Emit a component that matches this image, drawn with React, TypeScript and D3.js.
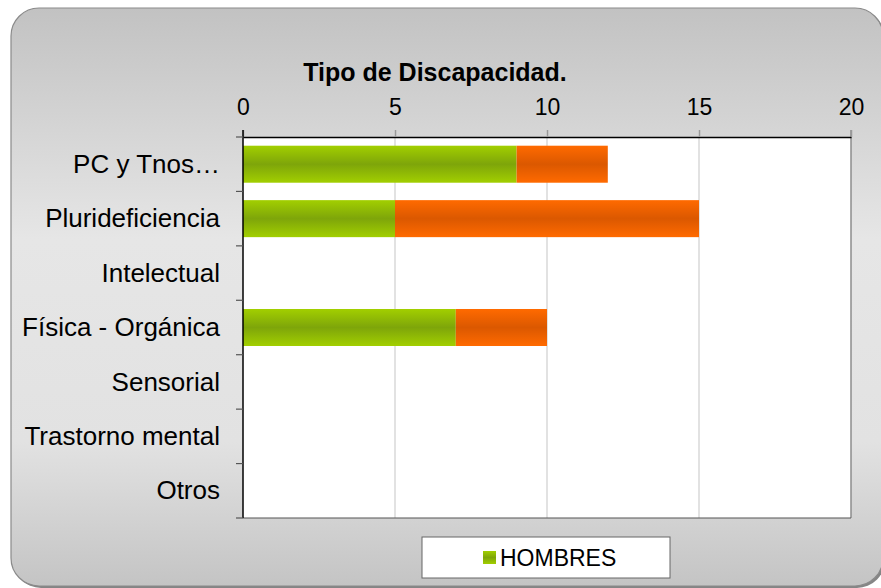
import React, { useEffect, useRef } from 'react';
import * as d3 from 'd3';

const categories = ['PC y Tnos…', 'Plurideficiencia', 'Intelectual', 'Física - Orgánica', 'Sensorial', 'Trastorno mental', 'Otros'];
const hombres = [9, 5, 0, 7, 0, 0, 0];
const mujeres = [3, 10, 0, 3, 0, 0, 0];
const xTicks = [0, 5, 10, 15, 20];

const App = () => {
  const svgRef = useRef<SVGSVGElement>(null);

  useEffect(() => {
    const width = 881;
    const height = 588;
    const left = 243, right = 851, top = 137, bottom = 518;
    const font = "'Liberation Sans', Arial, sans-serif";

    const svg = d3.select(svgRef.current)
      .attr('width', width)
      .attr('height', height);
    svg.selectAll('*').remove();

    const defs = svg.append('defs');
    const bg = defs.append('linearGradient').attr('id', 'bg')
      .attr('x1', 0).attr('y1', 0).attr('x2', 0).attr('y2', 1);
    bg.append('stop').attr('offset', '0%').attr('stop-color', '#c2c2c2');
    bg.append('stop').attr('offset', '40%').attr('stop-color', '#e6e6e6');
    bg.append('stop').attr('offset', '75%').attr('stop-color', '#e2e2e2');
    bg.append('stop').attr('offset', '100%').attr('stop-color', '#c4c4c4');

    // bar gradients (light edges, darker middle)
    const barGrad = (id: string, edge: string, mid: string) => {
      const g = defs.append('linearGradient').attr('id', id)
        .attr('x1', 0).attr('y1', 0).attr('x2', 0).attr('y2', 1);
      g.append('stop').attr('offset', '0%').attr('stop-color', edge);
      g.append('stop').attr('offset', '50%').attr('stop-color', mid);
      g.append('stop').attr('offset', '100%').attr('stop-color', edge);
    };
    barGrad('green', '#a2cf00', '#7ea50a');
    barGrad('orange', '#ff6a00', '#db5800');

    // frame
    svg.append('rect')
      .attr('x', 13).attr('y', 10).attr('width', 872).attr('height', 578)
      .attr('rx', 28).attr('fill', '#333').attr('opacity', 0.6);
    svg.append('rect')
      .attr('x', 11).attr('y', 8).attr('width', 872).attr('height', 578)
      .attr('rx', 28).attr('fill', 'url(#bg)').attr('stroke', '#8a8a8a').attr('stroke-width', 1.2);

    // title
    svg.append('text')
      .attr('x', 435).attr('y', 81)
      .attr('text-anchor', 'middle')
      .attr('font-family', font).attr('font-weight', 'bold').attr('font-size', 25)
      .text('Tipo de Discapacidad.');

    const x = d3.scaleLinear().domain([0, 20]).range([left, right]);
    const y = d3.scaleBand().domain(categories).range([top, bottom]).paddingInner(0.32).paddingOuter(0.16);
    const band = (bottom - top) / categories.length;

    // plot area
    svg.append('rect')
      .attr('x', left).attr('y', top).attr('width', right - left).attr('height', bottom - top)
      .attr('fill', '#fff');

    // gridlines
    svg.append('g').selectAll('line')
      .data(xTicks.slice(1, -1))
      .enter().append('line')
      .attr('x1', d => x(d)).attr('x2', d => x(d))
      .attr('y1', top - 7).attr('y2', bottom)
      .attr('stroke', '#d9d9d9').attr('stroke-width', 1.5);

    // bars
    const rows = categories.map((c, i) => ({ c, h: hombres[i], m: mujeres[i] }));
    const bars = svg.append('g');
    bars.selectAll('rect.h')
      .data(rows.filter(d => d.h > 0))
      .enter().append('rect')
      .attr('x', x(0))
      .attr('y', d => y(d.c)!)
      .attr('width', d => x(d.h) - x(0))
      .attr('height', y.bandwidth())
      .attr('fill', 'url(#green)');
    bars.selectAll('rect.m')
      .data(rows.filter(d => d.m > 0))
      .enter().append('rect')
      .attr('x', d => x(d.h))
      .attr('y', d => y(d.c)!)
      .attr('width', d => x(d.h + d.m) - x(d.h))
      .attr('height', y.bandwidth())
      .attr('fill', 'url(#orange)');

    // borders
    svg.append('line').attr('x1', right).attr('x2', right).attr('y1', top - 7).attr('y2', bottom)
      .attr('stroke', '#8c8c8c').attr('stroke-width', 1.5);
    svg.append('line').attr('x1', left).attr('x2', right).attr('y1', bottom).attr('y2', bottom)
      .attr('stroke', '#555').attr('stroke-width', 1.2);

    // top axis
    const xAxis = svg.append('g').attr('transform', `translate(0,${top})`)
      .call(d3.axisTop(x).tickValues(xTicks).tickSize(7).tickSizeOuter(0));
    xAxis.select('.domain').attr('stroke', '#000').attr('stroke-width', 1.5);
    xAxis.selectAll('.tick line').attr('stroke', '#999').attr('stroke-width', 1.5);
    xAxis.selectAll('text')
      .attr('font-family', font).attr('font-size', 23).attr('fill', '#000')
      .attr('y', -22);

    // left axis
    svg.append('line').attr('x1', left).attr('x2', left).attr('y1', top - 7).attr('y2', bottom)
      .attr('stroke', '#000').attr('stroke-width', 1.5);
    svg.append('g').selectAll('line')
      .data(d3.range(categories.length + 1))
      .enter().append('line')
      .attr('x1', left - 7).attr('x2', left)
      .attr('y1', i => top + i * band).attr('y2', i => top + i * band)
      .attr('stroke', '#555').attr('stroke-width', 1.2);
    svg.append('g').selectAll('text')
      .data(categories)
      .enter().append('text')
      .attr('x', 220)
      .attr('y', d => y(d)! + y.bandwidth() / 2)
      .attr('dy', '0.33em')
      .attr('text-anchor', 'end')
      .attr('font-family', font).attr('font-size', 26)
      .text(d => d);

    // legend
    const lg = svg.append('g');
    lg.append('rect').attr('x', 422).attr('y', 537).attr('width', 248).attr('height', 41)
      .attr('fill', '#fff').attr('stroke', '#666').attr('stroke-width', 1);
    lg.append('rect').attr('x', 483).attr('y', 551).attr('width', 13).attr('height', 13)
      .attr('fill', 'url(#green)');
    lg.append('text').attr('x', 500).attr('y', 566)
      .attr('font-family', font).attr('font-size', 23)
      .text('HOMBRES');
  }, []);

  return <svg ref={svgRef} style={{ position: 'absolute', left: 0, top: 0 }} />;
};

export default App;
